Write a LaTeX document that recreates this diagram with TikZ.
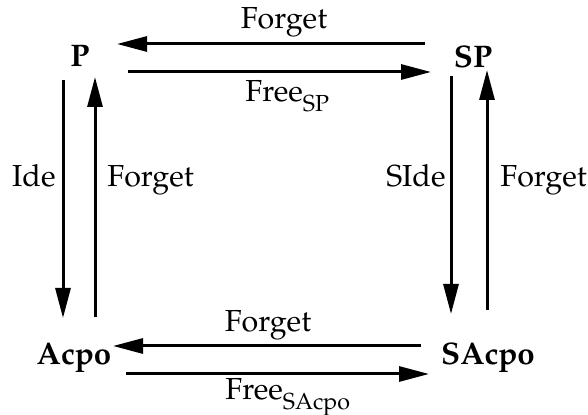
\documentclass[tikz,border=0pt]{standalone}
\usepackage[T1]{fontenc}
\usepackage{mathpazo}
\usetikzlibrary{positioning,calc,arrows.meta}
\newcommand{\lsub}[1]{\raisebox{-5pt}{\fontsize{11.6}{12}\selectfont #1}}

\begin{document}
\begin{tikzpicture}[x=0.5pt,y=-0.5pt,
    obj/.style={font=\fontsize{15.6}{18}\selectfont\bfseries,inner sep=0pt,anchor=base},
    lab/.style={font=\fontsize{15.2}{18}\selectfont,inner sep=0pt},
    arr/.style={-{Triangle[length=15pt,width=7.5pt]},line width=1.5pt}]
      \useasboundingbox (0,0) rectangle (588,415);
      \node[obj] (P) at (80,67) {P};
      \node[obj] (SP) at (473,68) {SP};
      \node[obj] (Acpo) at (74,365) {Acpo};
      \node[obj] (SAcpo) at (488,365) {SAcpo};
      % top
      \draw[arr] ($(SP.base)+(-48,-24)$) -- ($(P.base)+(37,-23)$);
      \draw[arr] ($(P.base)+(48,5)$) -- ($(SP.base)+(-42,4)$);
      \node[lab,anchor=base] (fgt) at (284,29) {Forget};
      \node[lab,anchor=base west] (frsp) at (245,102) {Free\lsub{SP}};
      % left
      \draw[arr] ($(P.base)+(-17,13)$) -- ($(Acpo.base)+(-11,-47)$);
      \draw[arr] ($(Acpo.base)+(21,-48)$) -- ($(P.base)+(15,10)$);
      \node[lab,anchor=base east] (ide) at (56,187) {Ide};
      \node[lab,anchor=base west] (fgl) at (107,187) {Forget};
      % right
      \draw[arr] ($(SP.base)+(-22,8)$) -- ($(SAcpo.base)+(-37,-51)$);
      \draw[arr] ($(SAcpo.base)+(-1,-55)$) -- ($(SP.base)+(14,2)$);
      \node[lab,anchor=base east] (side) at (446,187) {SIde};
      \node[lab,anchor=base west] (fgr) at (500,187) {Forget};
      % bottom
      \draw[arr] ($(SAcpo.base)+(-67,-19)$) -- ($(Acpo.base)+(39,-19)$);
      \draw[arr] ($(Acpo.base)+(52,9)$) -- ($(SAcpo.base)+(-59,9)$);
      \node[lab,anchor=base] (fgb) at (268,332) {Forget};
      \node[lab,anchor=base west] (frsa) at (225,400) {Free\lsub{SAcpo}};
    \end{tikzpicture}
\end{document}
